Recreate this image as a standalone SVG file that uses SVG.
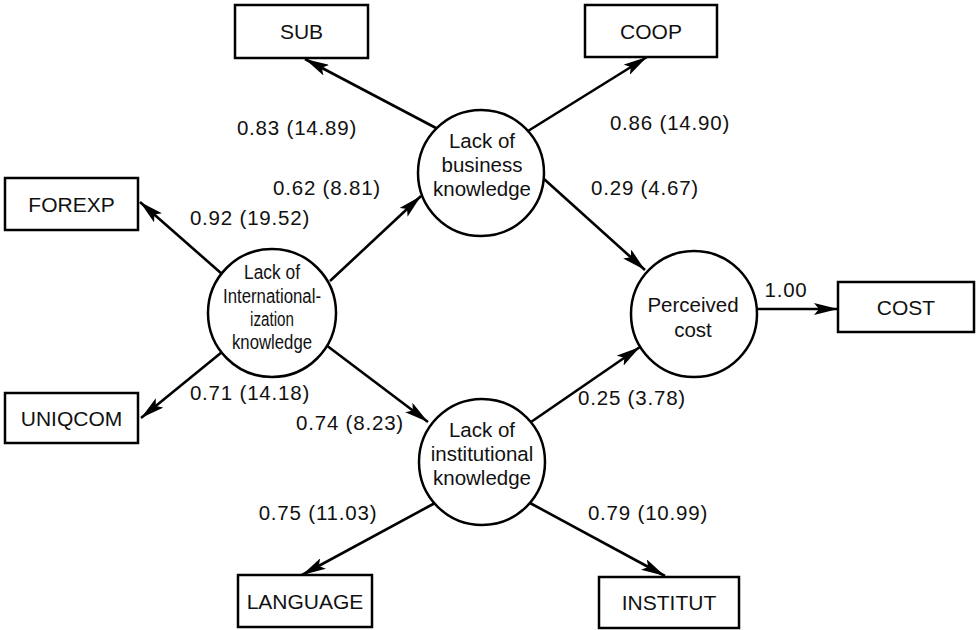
<svg xmlns="http://www.w3.org/2000/svg" width="976" height="630" viewBox="0 0 976 630">
<defs>
<marker id="ah" viewBox="0 0 24 12" refX="24" refY="6" markerWidth="24" markerHeight="12" markerUnits="userSpaceOnUse" orient="auto">
<path d="M0,0 L24,6 L0,12 L5,6 Z" fill="#000"/>
</marker>
<style>
.box{fill:#fff;stroke:#000;stroke-width:2.5}
.lat{fill:#fff;stroke:#000;stroke-width:2.5}
.t{font-family:"Liberation Sans",Arial,Helvetica,sans-serif;font-size:21px;fill:#111;text-anchor:middle}
.ct{font-family:"Liberation Sans",Arial,Helvetica,sans-serif;font-size:20.5px;fill:#111;text-anchor:middle}
.it{font-family:"Liberation Sans",Arial,Helvetica,sans-serif;font-size:20px;fill:#111;text-anchor:middle}
.lbl{font-family:"Liberation Sans",Arial,Helvetica,sans-serif;font-size:20.5px;letter-spacing:0.8px;fill:#111;text-anchor:middle}
.c line{stroke:#000;stroke-width:2.6;marker-end:url(#ah)}
</style>
</defs>
<rect width="976" height="630" fill="#fff"/>
<g class="c" id="connectors">
<line x1="222" y1="274" x2="140" y2="202"/>
<line x1="222" y1="352" x2="141" y2="418"/>
<line x1="330" y1="281" x2="421" y2="196"/>
<line x1="326" y1="345" x2="428" y2="422"/>
<line x1="436" y1="128" x2="305" y2="59"/>
<line x1="528" y1="131" x2="647" y2="57"/>
<line x1="544" y1="179" x2="645" y2="270"/>
<line x1="531" y1="422" x2="640" y2="347"/>
<line x1="757" y1="309" x2="838" y2="309"/>
<line x1="435" y1="503" x2="302" y2="575"/>
<line x1="530" y1="503" x2="665" y2="576"/>
</g>
<g id="SUB"><rect class="box" x="235" y="5" width="133" height="53"/><text class="t" x="301.5" y="39">SUB</text></g>
<g id="COOP"><rect class="box" x="585" y="5" width="132" height="52"/><text class="t" x="651" y="38.5">COOP</text></g>
<g id="FOREXP"><rect class="box" x="5" y="178" width="133" height="52"/><text class="t" x="71.5" y="211.5">FOREXP</text></g>
<g id="UNIQCOM"><rect class="box" x="5" y="393" width="133" height="50"/><text class="t" x="71.5" y="425.5">UNIQCOM</text></g>
<g id="COST"><rect class="box" x="838" y="282" width="136" height="50"/><text class="t" x="906" y="314.5">COST</text></g>
<g id="LANGUAGE"><rect class="box" x="238" y="575" width="134" height="52"/><text class="t" x="305" y="608.5">LANGUAGE</text></g>
<g id="INSTITUT"><rect class="box" x="599" y="577" width="140" height="51"/><text class="t" x="669" y="609.5">INSTITUT</text></g>
<g id="intl"><circle class="lat" cx="272" cy="313" r="64"/>
<text class="it" x="272" y="279" textLength="56" lengthAdjust="spacingAndGlyphs">Lack of</text>
<text class="it" x="272" y="303" textLength="98" lengthAdjust="spacingAndGlyphs">International-</text>
<text class="it" x="272" y="326" textLength="44" lengthAdjust="spacingAndGlyphs">ization</text>
<text class="it" x="272" y="349" textLength="80" lengthAdjust="spacingAndGlyphs">knowledge</text>
</g>
<g id="business"><circle class="lat" cx="481" cy="173" r="63"/>
<text class="ct" x="482" y="148">Lack of</text>
<text class="ct" x="482" y="172">business</text>
<text class="ct" x="482" y="196">knowledge</text>
</g>
<g id="institutional"><circle class="lat" cx="482" cy="462" r="63"/>
<text class="ct" x="482" y="437">Lack of</text>
<text class="ct" x="482" y="461">institutional</text>
<text class="ct" x="482" y="485">knowledge</text>
</g>
<g id="perceived"><circle class="lat" cx="694" cy="314" r="63"/>
<text class="ct" x="693" y="312">Perceived</text>
<text class="ct" x="693" y="337">cost</text>
</g>
<g id="labels">
<text class="lbl" x="297" y="135">0.83 (14.89)</text>
<text class="lbl" x="670" y="130">0.86 (14.90)</text>
<text class="lbl" x="327" y="195">0.62 (8.81)</text>
<text class="lbl" x="645" y="195">0.29 (4.67)</text>
<text class="lbl" x="250" y="225">0.92 (19.52)</text>
<text class="lbl" x="786" y="297">1.00</text>
<text class="lbl" x="250" y="400">0.71 (14.18)</text>
<text class="lbl" x="632" y="405">0.25 (3.78)</text>
<text class="lbl" x="350" y="430">0.74 (8.23)</text>
<text class="lbl" x="318" y="520">0.75 (11.03)</text>
<text class="lbl" x="648" y="520">0.79 (10.99)</text>
</g>
</svg>
